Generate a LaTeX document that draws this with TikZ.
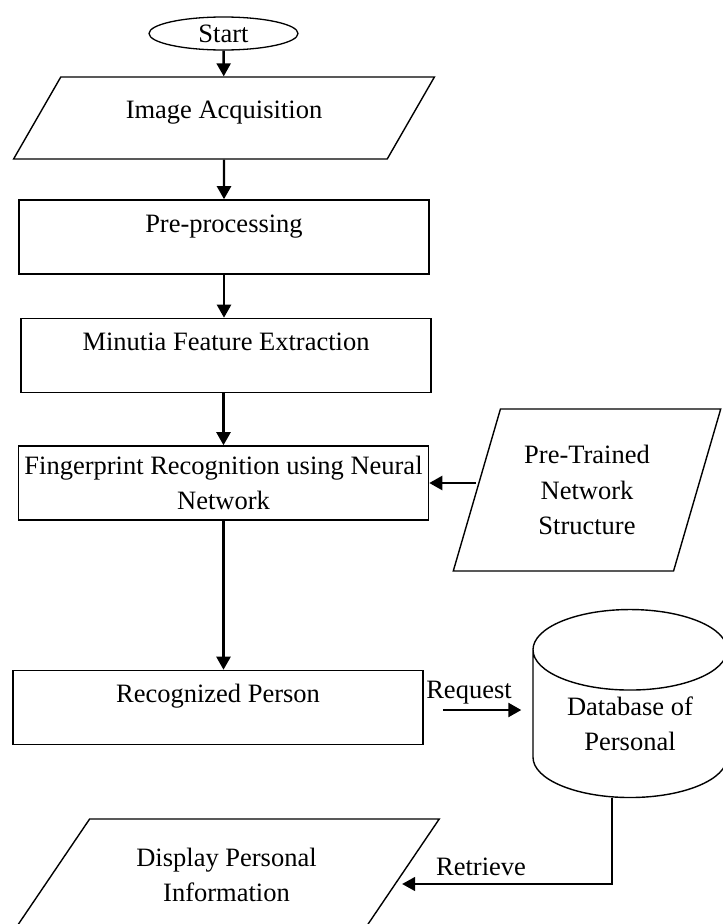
\documentclass[tikz,border=0pt]{standalone}
\usepackage{fontspec}
\setmainfont{Liberation Serif}
\usetikzlibrary{shapes.geometric, arrows.meta}

\begin{document}
\begin{tikzpicture}[x=1pt, y=-1pt,
    font=\fontsize{26.5}{35.5}\selectfont,
    box/.style={draw, line width=1.6pt, rectangle, minimum width=410pt, minimum height=74pt, inner sep=0pt, align=center},
    toptext/.style={text height=32pt, text depth=42pt},
    io/.style={draw, line width=1.4pt, trapezium, trapezium stretches=true, inner sep=0pt},
    arr/.style={line width=2.4pt, -{Triangle[length=13pt, width=14pt]}}]

% page frame
\useasboundingbox (0,0) rectangle (723,924);
\clip (0,0) rectangle (723,924);

% main column
\node[draw, ellipse, line width=1.3pt, minimum width=149pt, minimum height=33pt, inner sep=0pt] (start) at (223.5,33.5) {Start};
\node[io, trapezium left angle=40.2, trapezium right angle=139.8, minimum width=422pt, minimum height=82pt, text height=12pt, text depth=12pt] (acq) at (224,118) {Image Acquisition};
\node[box, toptext] (pre) at (224,237) {Pre-processing};
\node[box, toptext] (mfe) at (226,355.5) {Minutia Feature Extraction};
\node[box] (fpr) at (223.5,483) {Fingerprint Recognition using Neural\\Network};
\node[box, toptext] (rec) at (218,707.5) {Recognized Person};
\node[io, align=center, trapezium left angle=47.3, trapezium right angle=132.7, minimum width=427pt, minimum height=112pt] (disp) at (226.5,875) {Display Personal\\Information};

% side column
\node[io, align=center, trapezium left angle=69.1, trapezium right angle=110.9, minimum width=268pt, minimum height=162pt] (ptn) at (587,490) {Pre-Trained\\Network\\Structure};
\node[draw, cylinder, shape border rotate=90, aspect=0.64, line width=1.4pt, minimum width=194pt, minimum height=188pt, inner sep=0pt, align=center] (db) at (630,724) {Database of\\Personal};

% arrow labels
\node[anchor=base] (reqlbl) at (469,698) {Request};
\node[anchor=base] (retlbl) at (481,875) {Retrieve};

% arrows
\draw[arr] (start) -- (acq);
\draw[arr] (acq) -- (pre);
\draw[arr] (pre) -- (pre |- mfe.north);
\draw[arr] (mfe.south -| fpr) -- (fpr);
\draw[arr] (fpr.east -| ptn.west) -- (fpr.east);
\draw[arr] (fpr) -- (fpr |- rec.north);
\draw[arr, shorten >=11pt] ([xshift=19pt, yshift=-2.5pt]rec.east) -- ([yshift=-2.5pt]rec.east -| db.west);
\draw[arr, line width=1.7pt] ([xshift=-18pt]db.south) |- ([yshift=-9pt]disp.east);

\end{tikzpicture}
\end{document}
